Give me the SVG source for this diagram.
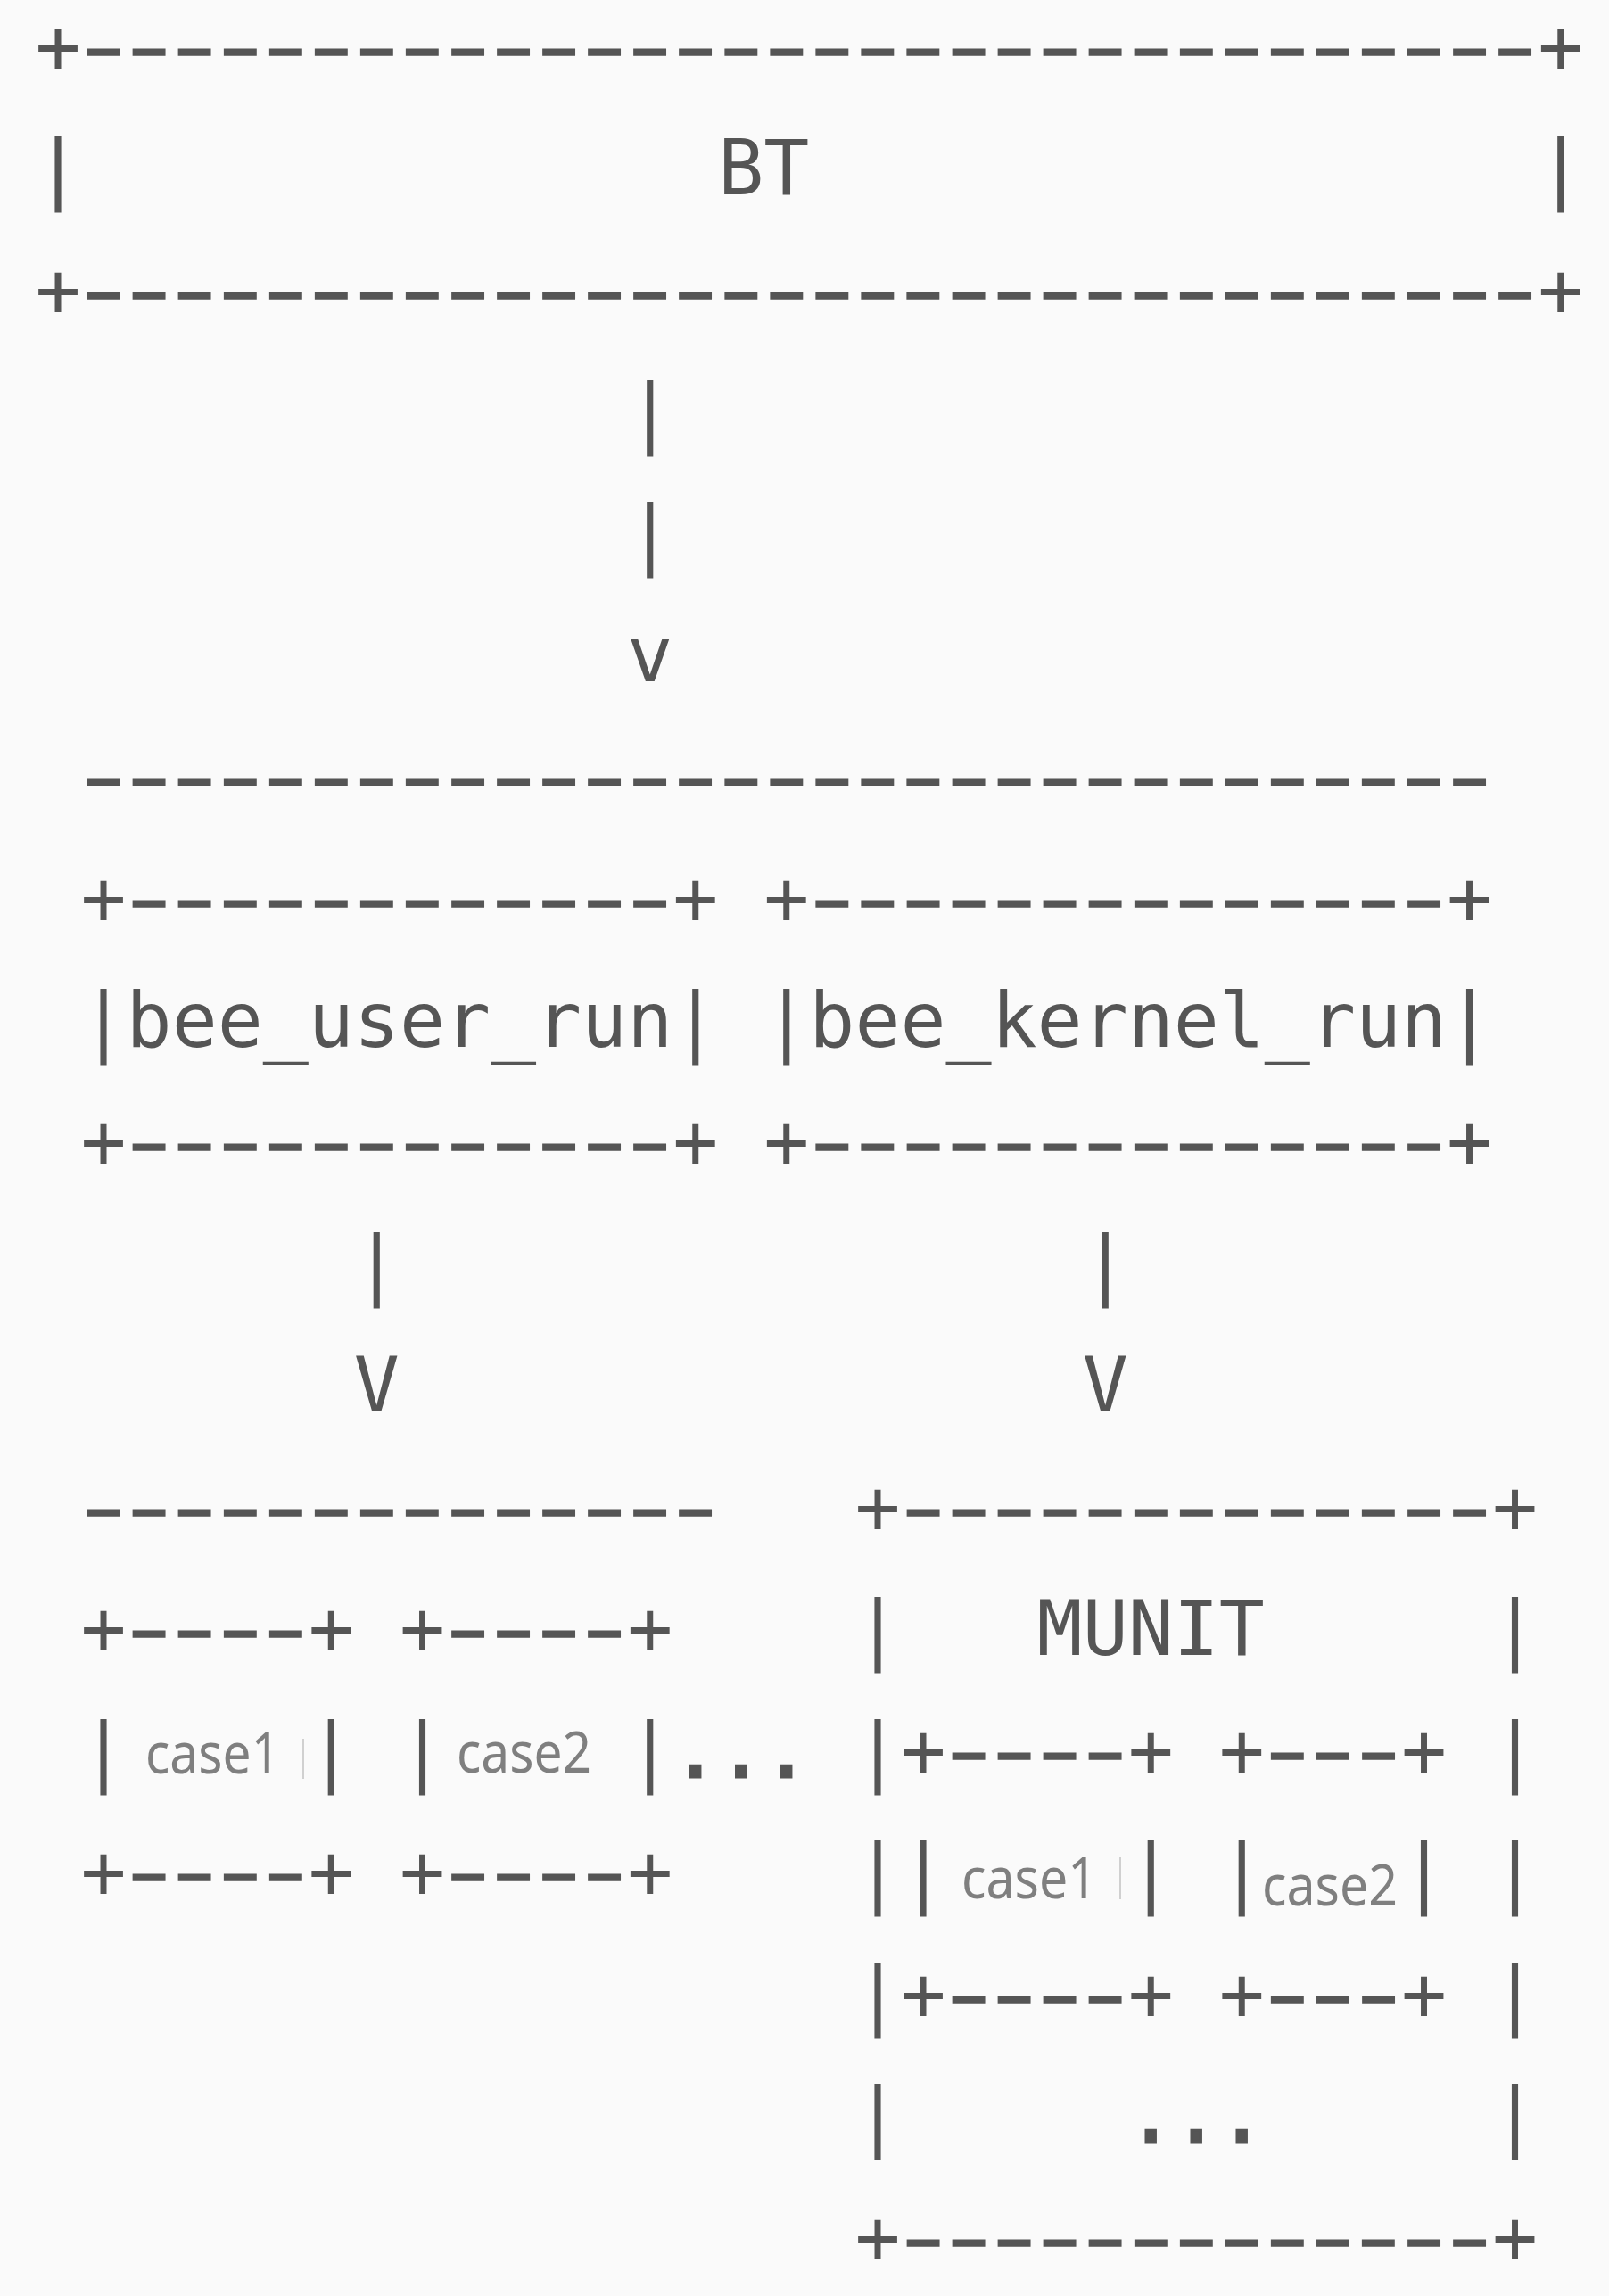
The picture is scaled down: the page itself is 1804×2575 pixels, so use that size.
<svg xmlns="http://www.w3.org/2000/svg" width="1804" height="2575" viewBox="0 0 1804 2575">
<style>
.m{font-family:"DejaVu Sans Mono",monospace;font-size:84.8px;fill:#555555;white-space:pre}
.d{font-family:"DejaVu Sans Mono",monospace;font-size:84.8px;fill:#555555;letter-spacing:-19.144px;stroke:#555555;stroke-width:1.5}
.dot{stroke:#555555;stroke-width:3}
.c{font-family:"Noto Sans","Open Sans",sans-serif;font-size:64px;fill:#7f7f7f}
.mark{stroke:#d0d0d0;stroke-width:2}
</style>
<rect x="0" y="0" width="1804" height="2575" fill="#fafafa"/>
<g id="bt">
<text class="m" x="39.5" y="81.5">+</text>
<text class="m" x="1724.15" y="81.5">+</text>
<text class="d" transform="translate(75.25,81.5) scale(1.6,1)">--------------------------------</text>
<text class="m" x="39.5" y="218">|</text>
<text class="m" x="805.25" y="218">BT</text>
<text class="m" x="1724.15" y="218">|</text>
<text class="m" x="39.5" y="354.5">+</text>
<text class="m" x="1724.15" y="354.5">+</text>
<text class="d" transform="translate(75.25,354.5) scale(1.6,1)">--------------------------------</text>
</g>
<g id="connectors">
<text class="m" x="703.15" y="491">|</text>
<text class="m" x="703.15" y="627.5">|</text>
<text class="m" x="703.15" y="764">v</text>
<text class="d" transform="translate(75.25,900.5) scale(1.6,1)">-------------------------------</text>
<text class="m" x="396.85" y="1446.5">|</text>
<text class="m" x="1213.65" y="1446.5">|</text>
<text class="m" x="396.85" y="1583">V</text>
<text class="m" x="1213.65" y="1583">V</text>
<text class="d" transform="translate(75.25,1719.5) scale(1.6,1)">--------------</text>
</g>
<g id="bee_user_run">
<text class="m" x="90.55" y="1037">+</text>
<text class="m" x="754.2" y="1037">+</text>
<text class="d" transform="translate(126.3,1037) scale(1.6,1)">------------</text>
<text class="m" x="90.55" y="1173.5">|bee_user_run|</text>
<text class="m" x="90.55" y="1310">+</text>
<text class="m" x="754.2" y="1310">+</text>
<text class="d" transform="translate(126.3,1310) scale(1.6,1)">------------</text>
</g>
<g id="bee_kernel_run">
<text class="m" x="856.3" y="1037">+</text>
<text class="m" x="1622.05" y="1037">+</text>
<text class="d" transform="translate(892.05,1037) scale(1.6,1)">--------------</text>
<text class="m" x="856.3" y="1173.5">|bee_kernel_run|</text>
<text class="m" x="856.3" y="1310">+</text>
<text class="m" x="1622.05" y="1310">+</text>
<text class="d" transform="translate(892.05,1310) scale(1.6,1)">--------------</text>
</g>
<g id="user_case1">
<text class="m" x="90.55" y="1856">+</text>
<text class="m" x="345.8" y="1856">+</text>
<text class="d" transform="translate(126.3,1856) scale(1.6,1)">----</text>
<text class="m" x="90.55" y="1992.5">|</text>
<text class="m" x="345.8" y="1992.5">|</text>
<text class="m" x="90.55" y="2129">+</text>
<text class="m" x="345.8" y="2129">+</text>
<text class="d" transform="translate(126.3,2129) scale(1.6,1)">----</text>
<text class="c" x="163" y="1989" textLength="151" lengthAdjust="spacingAndGlyphs">case1</text>
<line class="mark" x1="340" y1="1950" x2="340" y2="1995"/>
</g>
<g id="user_case2">
<text class="m" x="447.9" y="1856">+</text>
<text class="m" x="703.15" y="1856">+</text>
<text class="d" transform="translate(483.65,1856) scale(1.6,1)">----</text>
<text class="m" x="447.9" y="1992.5">|</text>
<text class="m" x="703.15" y="1992.5">|</text>
<text class="m" x="447.9" y="2129">+</text>
<text class="m" x="703.15" y="2129">+</text>
<text class="d" transform="translate(483.65,2129) scale(1.6,1)">----</text>
<text class="c" x="512" y="1988" textLength="151" lengthAdjust="spacingAndGlyphs">case2</text>
</g>
<g id="user_more">
<text class="m dot" x="754.2" y="1992.5">...</text>
</g>
<g id="munit">
<text class="m" x="958.4" y="1719.5">+</text>
<text class="m" x="1673.1" y="1719.5">+</text>
<text class="d" transform="translate(994.15,1719.5) scale(1.6,1)">-------------</text>
<text class="m" x="958.4" y="1856">|</text>
<text class="m" x="1162.6" y="1856">MUNIT</text>
<text class="m" x="1673.1" y="1856">|</text>
<text class="m" x="958.4" y="1992.5">|</text>
<text class="m" x="1673.1" y="1992.5">|</text>
<text class="m" x="958.4" y="2129">|</text>
<text class="m" x="1673.1" y="2129">|</text>
<text class="m" x="958.4" y="2265.5">|</text>
<text class="m" x="1673.1" y="2265.5">|</text>
<text class="m" x="958.4" y="2402">|</text>
<text class="m dot" x="1264.7" y="2402">...</text>
<text class="m" x="1673.1" y="2402">|</text>
<text class="m" x="958.4" y="2538.5">+</text>
<text class="m" x="1673.1" y="2538.5">+</text>
<text class="d" transform="translate(994.15,2538.5) scale(1.6,1)">-------------</text>
</g>
<g id="munit_case1">
<text class="m" x="1009.45" y="1992.5">+</text>
<text class="m" x="1264.7" y="1992.5">+</text>
<text class="d" transform="translate(1045.2,1992.5) scale(1.6,1)">----</text>
<text class="m" x="1009.45" y="2129">|</text>
<text class="m" x="1264.7" y="2129">|</text>
<text class="m" x="1009.45" y="2265.5">+</text>
<text class="m" x="1264.7" y="2265.5">+</text>
<text class="d" transform="translate(1045.2,2265.5) scale(1.6,1)">----</text>
<text class="c" x="1078" y="2129" textLength="152" lengthAdjust="spacingAndGlyphs">case1</text>
<line class="mark" x1="1256" y1="2083" x2="1256" y2="2130"/>
</g>
<g id="munit_case2">
<text class="m" x="1366.8" y="1992.5">+</text>
<text class="m" x="1571" y="1992.5">+</text>
<text class="d" transform="translate(1402.55,1992.5) scale(1.6,1)">---</text>
<text class="m" x="1366.8" y="2129">|</text>
<text class="m" x="1571" y="2129">|</text>
<text class="m" x="1366.8" y="2265.5">+</text>
<text class="m" x="1571" y="2265.5">+</text>
<text class="d" transform="translate(1402.55,2265.5) scale(1.6,1)">---</text>
<text class="c" x="1415" y="2137" textLength="152" lengthAdjust="spacingAndGlyphs">case2</text>
</g>
</svg>
